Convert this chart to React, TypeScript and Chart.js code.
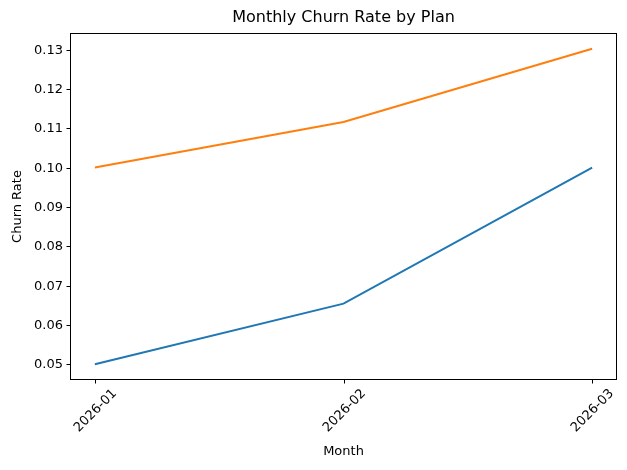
import React, { useEffect, useRef } from "react";
import { Chart, registerables } from "chart.js";

Chart.register(...registerables);

const months = ["2026-01", "2026-02", "2026-03"];
const planA = [0.05, 0.0654, 0.1];
const planB = [0.1, 0.1116, 0.1302];
const yTicks = [0.05, 0.06, 0.07, 0.08, 0.09, 0.1, 0.11, 0.12, 0.13];
const title = "Monthly Churn Rate by Plan";
const xTitle = "Month";
const yTitle = "Churn Rate";

const FONT = "DejaVu Sans";

const framePlugin = {
  id: "frame",
  afterDraw(chart: any) {
    const { ctx, chartArea } = chart;
    const { left, right, top, bottom } = chartArea;
    const xs = chart.scales.x;
    const ys = chart.scales.y;
    ctx.save();
    ctx.strokeStyle = "#000";
    ctx.lineWidth = 1;
    ctx.strokeRect(left + 0.5, top + 0.5, right - left - 1, bottom - top - 1);
    ctx.fillStyle = "#000";
    ctx.font = `13px '${FONT}'`;
    // y ticks
    ctx.textAlign = "right";
    ctx.textBaseline = "middle";
    yTicks.forEach((v) => {
      const y = Math.round(ys.getPixelForValue(v)) + 0.5;
      ctx.beginPath();
      ctx.moveTo(left - 3.5, y);
      ctx.lineTo(left, y);
      ctx.stroke();
      ctx.fillText(v.toFixed(2), left - 7, y);
    });
    // x ticks
    months.forEach((m, i) => {
      const x = Math.round(xs.getPixelForValue(i)) + 0.5;
      ctx.beginPath();
      ctx.moveTo(x, bottom);
      ctx.lineTo(x, bottom + 3.5);
      ctx.stroke();
      const w = ctx.measureText(m).width;
      const half = (w * Math.SQRT1_2 + 13 * Math.SQRT1_2) / 2;
      ctx.save();
      ctx.translate(x, bottom + 7 + half);
      ctx.rotate(-Math.PI / 4);
      ctx.textAlign = "center";
      ctx.textBaseline = "middle";
      ctx.fillText(m, 0, 0);
      ctx.restore();
    });
    // axis titles
    ctx.textAlign = "center";
    ctx.textBaseline = "middle";
    ctx.fillText(xTitle, (left + right) / 2, 452);
    ctx.save();
    ctx.translate(18, (top + bottom) / 2);
    ctx.rotate(-Math.PI / 2);
    ctx.fillText(yTitle, 0, 0);
    ctx.restore();
    // title
    ctx.font = `16px '${FONT}'`;
    ctx.fillText(title, (left + right) / 2, 18);
    ctx.restore();
  },
};

export default function App() {
  const ref = useRef<HTMLCanvasElement>(null);
  useEffect(() => {
    document.body.style.margin = "0";
    const chart = new Chart(ref.current!, {
      type: "line",
      data: {
        datasets: [
          {
            label: "A",
            data: planA.map((v, i) => ({ x: i, y: v })),
            borderColor: "#1f77b4",
            borderWidth: 2,
            pointRadius: 0,
            tension: 0,
          },
          {
            label: "B",
            data: planB.map((v, i) => ({ x: i, y: v })),
            borderColor: "#ff7f0e",
            borderWidth: 2,
            pointRadius: 0,
            tension: 0,
          },
        ],
      },
      options: {
        animation: false,
        responsive: false,
        events: [],
        layout: { padding: { top: 33, right: 10, left: 0, bottom: 0 } },
        plugins: { legend: { display: false }, title: { display: false }, tooltip: { enabled: false } },
        scales: {
          x: {
            type: "linear",
            min: -0.1,
            max: 2.1,
            grid: { display: false },
            border: { display: false },
            ticks: { display: false },
            afterFit: (s: any) => { s.height = 90; },
          },
          y: {
            type: "linear",
            min: 0.046,
            max: 0.1342,
            grid: { display: false },
            border: { display: false },
            ticks: { display: false },
            afterFit: (s: any) => { s.width = 70; },
          },
        },
      },
      plugins: [framePlugin],
    });
    return () => chart.destroy();
  }, []);
  return <canvas ref={ref} width={627} height={470} style={{ display: "block" }} />;
}
